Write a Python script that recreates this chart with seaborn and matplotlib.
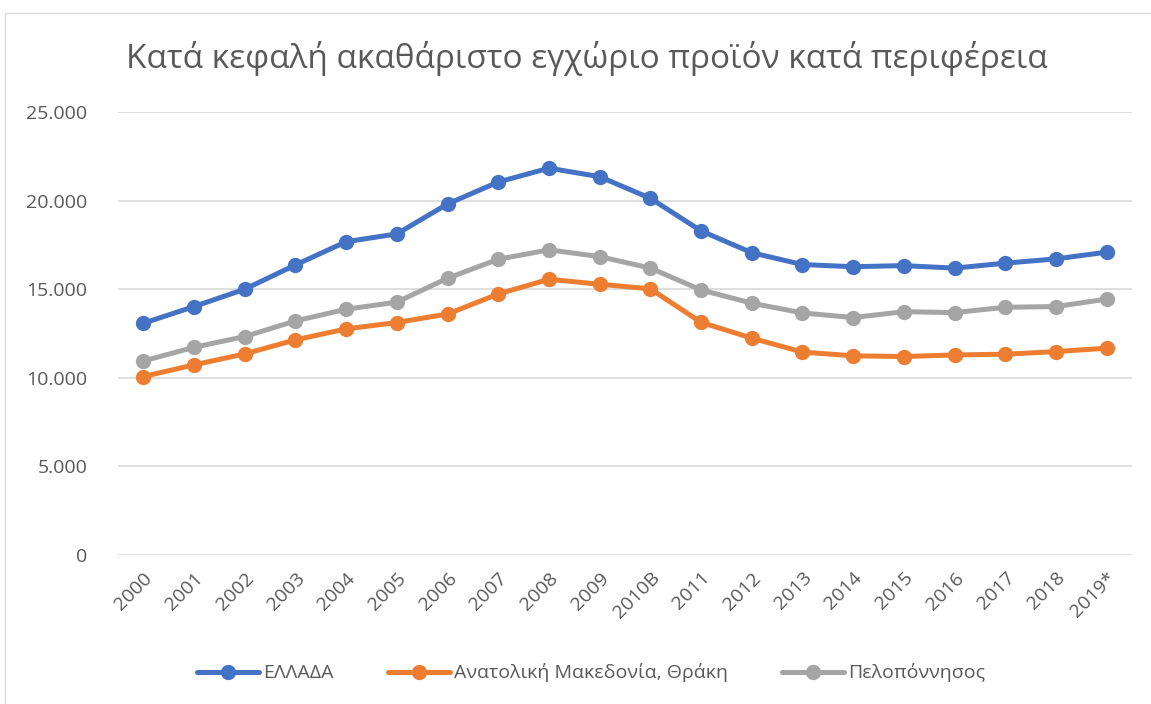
import seaborn as sns
import matplotlib.pyplot as plt
import pandas as pd
from matplotlib.ticker import FuncFormatter
from matplotlib.lines import Line2D
from matplotlib.patches import Rectangle

# Δεδομένα
years = ["2000", "2001", "2002", "2003", "2004", "2005", "2006", "2007", "2008", "2009",
         "2010B", "2011", "2012", "2013", "2014", "2015", "2016", "2017", "2018", "2019*"]
ellada = [13080, 14020, 15000, 16370, 17680, 18120, 19810, 21050, 21830, 21350,
          20130, 18290, 17060, 16390, 16270, 16330, 16190, 16470, 16710, 17090]
amth = [10070, 10730, 11350, 12140, 12760, 13120, 13600, 14730, 15560, 15280,
        15020, 13130, 12240, 11450, 11240, 11200, 11290, 11330, 11480, 11670]
pelop = [10950, 11720, 12330, 13210, 13870, 14270, 15620, 16690, 17220, 16840,
         16190, 14960, 14210, 13660, 13400, 13730, 13680, 13980, 14020, 14440]
series_names = ["ΕΛΛΑΔΑ", "Ανατολική Μακεδονία, Θράκη", "Πελοπόννησος"]
colors = ["#4472C4", "#ED7D31", "#A5A5A5"]

df = pd.DataFrame({"year": years * 3,
                   "value": ellada + amth + pelop,
                   "region": [series_names[0]] * 20 + [series_names[1]] * 20 + [series_names[2]] * 20})

sns.set_theme(style="white")
plt.rcParams["font.family"] = ["Open Sans", "DejaVu Sans"]

fig = plt.figure(figsize=(11.51, 7.04), dpi=100)
ax = fig.add_axes([118 / 1151, 1 - 555 / 704, 1014 / 1151, 443 / 704])

sns.lineplot(data=df, x="year", y="value", hue="region", hue_order=series_names,
             palette=colors, sort=False, marker="o", markersize=11, markeredgewidth=0,
             linewidth=3.6, ax=ax, legend=False)

ax.set_xlim(-0.5, 19.5)
ax.set_ylim(0, 25000)
ax.set_yticks(range(0, 25001, 5000))
ax.yaxis.set_major_formatter(FuncFormatter(lambda v, p: f"{int(v):,}".replace(",", ".")))
ax.grid(axis="y", color="#D9D9D9", linewidth=1.2)
ax.set_axisbelow(True)
for s in ax.spines.values():
    s.set_visible(False)
ax.tick_params(axis="both", length=0, colors="#595959", labelsize=14)
ax.tick_params(axis="y", pad=22)
ax.set_xticks(range(len(years)))
ax.set_xticklabels(years, rotation=45, ha="right", rotation_mode="anchor")
ax.tick_params(axis="x", pad=10)
ax.set_xlabel("")
ax.set_ylabel("")

fig.text(587 / 1151, 1 - 58 / 704, "Κατά κεφαλή ακαθάριστο εγχώριο προϊόν κατά περιφέρεια",
         ha="center", va="center", fontsize=24, color="#595959")

handles = [Line2D([], [], color=c, marker="o", markersize=11, markeredgewidth=0, linewidth=3.6)
           for c in colors]
fig.legend(handles, series_names, loc="center", bbox_to_anchor=(591 / 1151, 1 - 673 / 704),
           ncol=3, frameon=False, fontsize=14, labelcolor="#595959",
           handlelength=3.2, handletextpad=0.2, columnspacing=2.8)

fig.patches.append(Rectangle((5 / 1151, -0.05), 1.1, 1 - 13 / 704 + 0.05, transform=fig.transFigure,
                             fill=False, edgecolor="#D9D9D9", linewidth=1))

fig.savefig("out.png", dpi=100)
